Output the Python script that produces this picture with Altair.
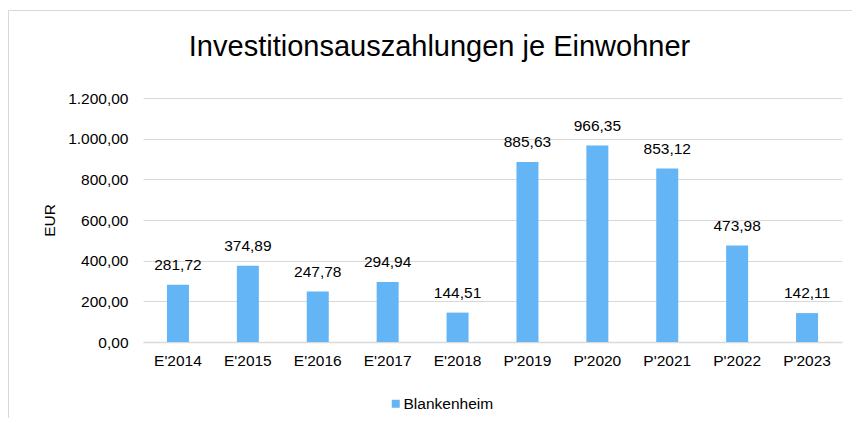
import altair as alt
import pandas as pd

categories = ["E'2014", "E'2015", "E'2016", "E'2017", "E'2018",
              "P'2019", "P'2020", "P'2021", "P'2022", "P'2023"]
values = [281.72, 374.89, 247.78, 294.94, 144.51,
          885.63, 966.35, 853.12, 473.98, 142.11]
series_name = "Blankenheim"
y_ticks = [0, 200, 400, 600, 800, 1000, 1200]
title_text = "Investitionsauszahlungen je Einwohner"
y_title = "EUR"

df = pd.DataFrame({
    "category": categories,
    "value": values,
    "series": [series_name] * len(categories),
})

FONT = "Liberation Sans"
BAR = "#63B5F5"
GRID = "#d9d9d9"
TXT = "#000000"

x_enc = alt.X(
    "category:N", sort=categories,
    scale=alt.Scale(paddingInner=0, paddingOuter=0),
    axis=alt.Axis(title=None, labelAngle=0, ticks=False, labelPadding=11,
                  domainColor=GRID, domainWidth=1.5, grid=False,
                  labelFontSize=15.5, labelFont=FONT, labelColor=TXT),
)
y_enc = alt.Y(
    "value:Q",
    scale=alt.Scale(domain=[0, 1200], nice=False),
    axis=alt.Axis(title=y_title, values=y_ticks, format=",.2f", ticks=False,
                  domain=False, gridColor=GRID, gridWidth=1, labelPadding=15,
                  labelFontSize=15.5, labelFont=FONT, labelColor=TXT,
                  titleFontSize=15.5, titleFont=FONT, titleFontWeight="normal",
                  titleColor=TXT, titlePadding=10),
)

base = alt.Chart(df).encode(x=x_enc, y=y_enc)

bars = base.mark_bar(size=22).encode(
    color=alt.Color(
        "series:N",
        scale=alt.Scale(range=[BAR]),
        legend=alt.Legend(title=None, orient="none", legendX=245, legendY=298,
                          symbolType="square", symbolSize=64, symbolStrokeWidth=0,
                          labelFontSize=15.5, labelFont=FONT, labelColor=TXT,
                          labelOffset=0, padding=0),
    )
)

labels = base.mark_text(dy=-15, baseline="alphabetic", fontSize=15.5,
                        font=FONT, color=TXT).encode(
    text=alt.Text("value:Q", format=",.2f")
)

border = alt.Chart(alt.Data(values=[{}])).mark_rect(
    fillOpacity=0, stroke=GRID, strokeWidth=1
).encode(
    x=alt.value(-134.5), y=alt.value(-87.5),
    x2=alt.value(900), y2=alt.value(600),
)

chart = alt.layer(border, bars, labels).properties(
    width=699, height=244,
    title=alt.TitleParams(title_text, fontSize=29, font=FONT,
                          fontWeight="normal", color=TXT, anchor="middle",
                          frame="group", baseline="bottom",
                          dx=-53, offset=-81),
    autosize=alt.AutoSizeParams(type="none"),
    padding={"left": 135, "top": 90, "right": 10, "bottom": 76},
).configure(
    locale=alt.Locale(number=alt.NumberLocale(
        decimal=",", thousands=".", grouping=[3], currency=["", "\u00a0€"]))
).configure_view(strokeWidth=0)

chart.save("out.html", embed_options={"renderer": "svg", "actions": False})
